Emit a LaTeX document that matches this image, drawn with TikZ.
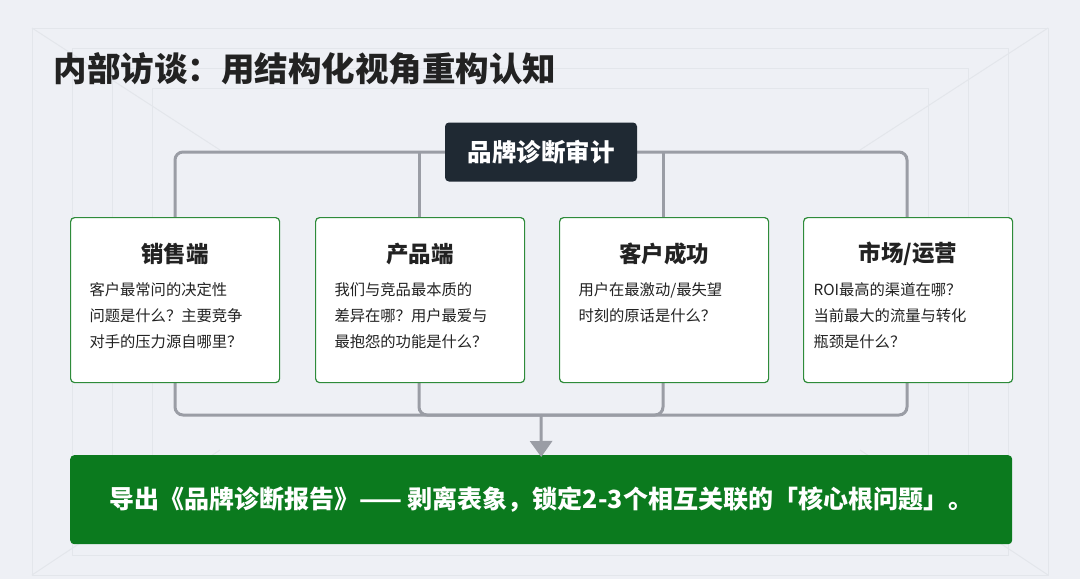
\documentclass[tikz,border=0pt]{standalone}
\usepackage{fontspec}
\setmainfont{Noto Sans CJK SC}
\usetikzlibrary{positioning,arrows.meta}
\definecolor{bgcol}{HTML}{EEF0F5}
\definecolor{gridcol}{HTML}{E3E6EB}
\definecolor{darkbox}{HTML}{1F2933}
\definecolor{cardgreen}{HTML}{2E8B3A}
\definecolor{bargreen}{HTML}{0B7A1E}
\definecolor{linkgray}{HTML}{9A9DA5}
\definecolor{txt}{HTML}{222222}

\begin{document}
\begin{tikzpicture}[
            x = 1pt, y = -1pt, % pixel like units
            > = {Triangle[length=16pt,width=22pt]},
            card/.style = {draw = cardgreen, fill = white, line width = 1.2pt,
                rounded corners = 4pt, minimum width = 209pt, minimum height = 165pt,
                anchor = north west},
            cardtitle/.style = {font = \fontsize{22.5}{26}\selectfont\bfseries, text = txt},
            cardtext/.style = {font = \fontsize{15.3}{26}\selectfont, text = txt,
                align = left, anchor = north west},
            link/.style = {draw = linkgray, line width = 3pt, rounded corners = 8pt}
        ]

        % background
        \fill[bgcol] (0,0) rectangle (1080,579);
        \useasboundingbox (0,0) rectangle (1080,579);
        \foreach \d in {0,40,80,120} {
            \draw[gridcol, line width = 1pt] (32+\d,28+\d*0.5) rectangle (1048-\d,575-\d*0.5);
        }
        \draw[gridcol, line width = 1pt] (32,28) -- (220,150) (1048,28) -- (860,150)
            (32,575) -- (220,450) (1048,575) -- (860,450);

        \node[anchor = west, font = \fontsize{33.5}{38}\selectfont\bfseries, text = txt]
            (title) at (50,69) {内部访谈：用结构化视角重构认知};

        % connectors
        \coordinate (topl) at (175,152);
        \coordinate (topr) at (907,152);
        \coordinate (botl) at (175,415);
        \coordinate (botr) at (907,415);
        \coordinate (join) at (541,415);
        \draw[link] (175,230) |- (topr) -- (907,230);
        \draw[link] (419,230) -- (419,152);
        \draw[link] (663,230) -- (663,152);
        \draw[link] (175,370) |- (botr) -- (907,370);
        \draw[link] (419,370) |- (join);
        \draw[link] (663,370) |- (join);

        \node[fill = darkbox, rounded corners = 4pt, minimum width = 192pt,
            minimum height = 59pt, text = white,
            font = \fontsize{24.5}{28}\selectfont\bfseries] (audit) at (541,152) {品牌诊断审计};

        % cards
        \node[card] (sales) at (70,217) {};
        \node[card] (prod) at (315,217) {};
        \node[card] (cust) at (559,217) {};
        \node[card] (mkt) at (803,217) {};

        \node[cardtitle] at ([yshift=-37pt]sales.north) {销售端};
        \node[cardtitle] at ([yshift=-37pt]prod.north) {产品端};
        \node[cardtitle] at ([yshift=-37pt]cust.north) {客户成功};
        \node[cardtitle] at ([yshift=-37pt]mkt.north) {市场/运营};

        \node[cardtext] at (86,279) {客户最常问的决定性\\问题是什么？主要竞争\\对手的压力源自哪里？};
        \node[cardtext] at (331,279) {我们与竞品最本质的\\差异在哪？用户最爱与\\最抱怨的功能是什么？};
        \node[cardtext] at (575,279) {用户在最激动/最失望\\时刻的原话是什么？};
        \node[cardtext] at (810,279) {ROI最高的渠道在哪？\\当前最大的流量与转化\\瓶颈是什么？};

        % result
        \node[fill = bargreen, rounded corners = 4pt, minimum width = 942pt,
            minimum height = 89pt, anchor = north west] (result) at (70,455) {};
        \node[text = white, font = \fontsize{25}{28}\selectfont\bfseries] at (result.center)
            {导出《品牌诊断报告》—— 剥离表象，锁定2-3个相互关联的「核心根问题」。};

        \draw[link, ->, rounded corners = 0pt] (join) -- ([yshift=-2pt]result.north);

    \end{tikzpicture}
\end{document}
